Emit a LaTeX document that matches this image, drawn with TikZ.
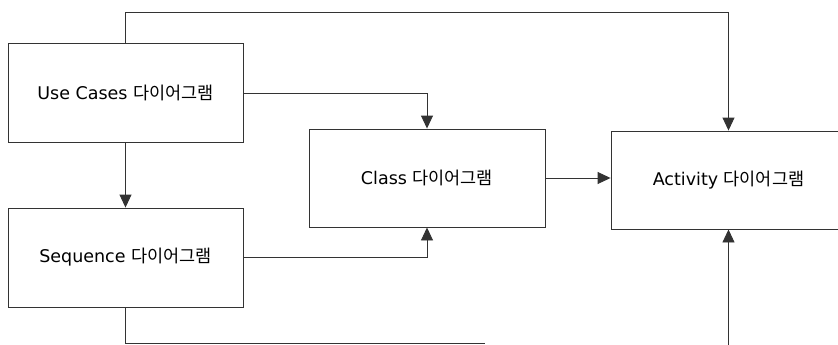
\documentclass[tikz,border=0pt]{standalone}
\usepackage{fontspec}
\setmainfont{DejaVu Sans}
\newfontfamily\kr{Noto Sans CJK KR}
\usetikzlibrary{arrows.meta}
\tikzset{
  box/.style={draw=black!80, line width=0.9pt, rectangle, minimum width=235pt, minimum height=99pt, inner sep=0pt, font=\fontsize{17.5}{20}\selectfont},
  arr/.style={draw=black!80, line width=0.9pt, -{Triangle[length=13pt,width=12pt]}},
  ln/.style={draw=black!80, line width=0.9pt}
}
\begin{document}
\begin{tikzpicture}[x=1pt,y=-1pt]
\useasboundingbox (0,0) rectangle (838,345);
\clip (0,0) rectangle (838,345);
\node[box] (uc) at (125.5,93) {Use Cases {\kr 다이어그램}};
\node[box] (seq) at (125.5,257.5) {Sequence {\kr 다이어그램}};
\node[box, minimum width=236pt, minimum height=98pt] (cls) at (427,178) {Class {\kr 다이어그램}};
\node[box, minimum height=98pt] (act) at (728.5,180) {Activity {\kr 다이어그램}};
\coordinate (t) at (125.5,12);
\coordinate (bl) at (125.5,343);
\coordinate (br) at (485,343);
\coordinate (bb) at (728.5,352);
\draw[arr] (uc.north) -- (t) -| (act.north);
\draw[arr] (uc.east) -| (cls.north);
\draw[arr] (uc.south) -- (seq.north);
\draw[arr] (seq.east) -| (cls.south);
\draw[arr] (cls.east) -- (cls.east -| act.west);
\draw[ln] (seq.south) -- (bl) -- (br);
\draw[arr] (bb) -- (act.south);
\end{tikzpicture}
\end{document}
